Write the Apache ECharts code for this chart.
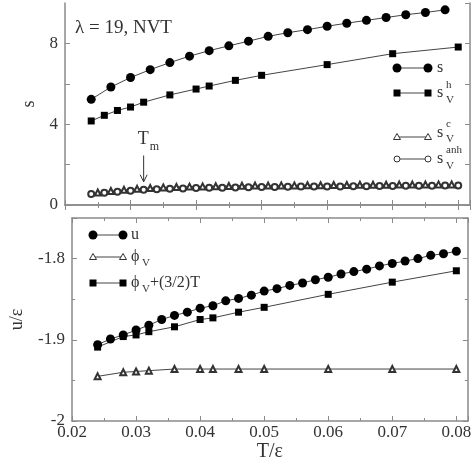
<!DOCTYPE html>
<html><head><meta charset="utf-8">
<script src="https://cdn.jsdelivr.net/npm/echarts@6/dist/echarts.min.js"></script>
<style>html,body{margin:0;padding:0;background:#fff}#c{width:474px;height:465px}</style>
</head><body><div id="c"></div>
<script>
// ---- data ----
const xTicks = [0.02, 0.03, 0.04, 0.05, 0.06, 0.07, 0.08];
const sX = [0.024,0.027,0.030,0.033,0.036,0.039,0.042,0.045,0.048,0.051,0.054,0.057,0.060,0.063,0.066,0.069,0.072,0.075,0.078];
const sVals = [5.23,5.84,6.31,6.70,7.05,7.37,7.64,7.88,8.11,8.35,8.53,8.68,8.85,9.00,9.14,9.28,9.42,9.53,9.66];
const shX = [0.024,0.026,0.028,0.030,0.032,0.036,0.040,0.042,0.046,0.050,0.060,0.070,0.080];
const shVals = [4.16,4.44,4.68,4.85,5.09,5.45,5.74,5.89,6.17,6.42,6.95,7.49,7.82];
const scX = [0.025,0.027,0.029,0.031,0.033,0.035,0.037,0.039,0.041,0.043,0.045,0.047,0.049,0.051,0.053,0.055,0.057,0.059,0.061,0.063,0.065,0.067,0.069,0.071,0.073,0.075,0.077,0.079];
const scVals = [0.62,0.69,0.75,0.80,0.84,0.87,0.89,0.91,0.92,0.93,0.94,0.95,0.96,0.96,0.97,0.97,0.98,0.98,0.99,0.99,1.00,1.00,1.00,1.01,1.01,1.01,1.02,1.02];
const anhX = [0.024,0.026,0.028,0.030,0.032,0.034,0.036,0.038,0.040,0.042,0.044,0.046,0.048,0.050,0.052,0.054,0.056,0.058,0.060,0.062,0.064,0.066,0.068,0.070,0.072,0.074,0.076,0.078,0.080];
const anhVals = [0.55,0.61,0.66,0.71,0.75,0.78,0.80,0.82,0.84,0.85,0.86,0.87,0.88,0.89,0.89,0.90,0.91,0.91,0.92,0.92,0.93,0.93,0.94,0.94,0.95,0.95,0.95,0.96,0.96];
const uX = [0.024,0.026,0.028,0.030,0.032,0.034,0.036,0.038,0.040,0.042,0.044,0.046,0.048,0.050,0.052,0.054,0.056,0.058,0.060,0.062,0.064,0.066,0.068,0.070,0.072,0.074,0.076,0.078,0.080];
const uVals = [-1.906,-1.899,-1.894,-1.888,-1.882,-1.875,-1.870,-1.866,-1.861,-1.858,-1.852,-1.849,-1.845,-1.840,-1.837,-1.833,-1.830,-1.826,-1.823,-1.819,-1.816,-1.813,-1.809,-1.806,-1.803,-1.800,-1.796,-1.794,-1.791];
const phiX = [0.024,0.028,0.030,0.032,0.036,0.040,0.042,0.046,0.050,0.060,0.070,0.080];
const phiVals = [-1.945,-1.940,-1.939,-1.938,-1.936,-1.936,-1.936,-1.936,-1.936,-1.936,-1.936,-1.936];
const phiTVals = [-1.909,-1.896,-1.894,-1.890,-1.884,-1.875,-1.873,-1.866,-1.860,-1.844,-1.829,-1.815];
const topYLabels = [0, 4, 8];
const botYLabels = [-2, -1.9, -1.8];
const tmX = 0.032;

const zip = (xs, ys) => xs.map((x, i) => [x, ys[i]]);
const FONT = '"Liberation Serif", "DejaVu Serif", serif';
const AX = '#8a8a8a';
const TXT = '#333';
const near = (v, arr) => arr.some(a => Math.abs(a - v) < 1e-9);

function xAxis(grid, pos, labels, name) {
  return {
    type: 'value', gridIndex: grid, position: pos, min: 0.02, max: 0.0818, interval: 0.01,
    axisLine: { show: true, lineStyle: { color: AX, width: 1.5 } },
    axisTick: { show: true, inside: true, length: 5, lineStyle: { color: AX } },
    minorTick: { show: true, splitNumber: 2, length: 3, lineStyle: { color: AX } },
    splitLine: { show: false },
    axisLabel: { show: labels, showMaxLabel: false, margin: 3, color: TXT, fontFamily: FONT, fontSize: 17,
      formatter: v => near(v, xTicks) ? v.toFixed(2) : '' },
    name: name || '', nameLocation: 'middle', nameGap: 17,
    nameTextStyle: { color: TXT, fontFamily: FONT, fontSize: 20 }
  };
}
function yAxis(grid, pos, labels, min, max, interval, fmt, name, gap) {
  return {
    type: 'value', gridIndex: grid, position: pos, min: min, max: max, interval: interval,
    axisLine: { show: true, lineStyle: { color: AX, width: 1.5 } },
    axisTick: { show: true, inside: true, length: 5, lineStyle: { color: AX } },
    minorTick: { show: grid === 1, splitNumber: 2, length: 3, lineStyle: { color: AX } },
    splitLine: { show: false },
    axisLabel: { show: labels, showMaxLabel: false, margin: 7, color: TXT, fontFamily: FONT, fontSize: 17, formatter: fmt },
    name: name || '', nameLocation: 'middle', nameGap: gap || 25, nameRotate: 90,
    nameTextStyle: { color: TXT, fontFamily: FONT, fontSize: 18 }
  };
}
const lineS = { color: '#444', width: 1 };
function ser(name, xi, yi, data, symbol, size, fill) {
  return {
    name, type: 'line', xAxisIndex: xi, yAxisIndex: yi, data, symbol, symbolSize: size,
    lineStyle: lineS, itemStyle: { color: fill, borderColor: '#222', borderWidth: symbol.startsWith('empty') ? 1 : 0 },
    showSymbol: true, animation: false, z: 3
  };
}

const chart = echarts.init(document.getElementById('c'), null, { renderer: 'canvas' });
chart.setOption({
  animation: false,
  backgroundColor: '#fff',
  grid: [
    { left: 65, top: 3, width: 405, height: 202 },
    { left: 65, top: 218, width: 405, height: 203 }
  ],
  xAxis: [
    xAxis(0, 'bottom', false), xAxis(0, 'top', false),
    xAxis(1, 'bottom', true, 'T/ε'), xAxis(1, 'top', false)
  ],
  yAxis: [
    yAxis(0, 'left', true, 0, 10, 2, v => near(v, topYLabels) ? String(v) : '', 's', 20),
    yAxis(0, 'right', false, 0, 10, 2),
    yAxis(1, 'left', true, -2, -1.75, 0.1, v => near(v, botYLabels) ? (Math.abs(v + 2) < 1e-9 ? '-2' : v.toFixed(1)) : '', 'u/ε', 46),
    yAxis(1, 'right', false, -2, -1.75, 0.1)
  ],
  series: [
    ser('s', 0, 0, zip(sX, sVals), 'circle', 9, '#000'),
    ser('svh', 0, 0, zip(shX, shVals), 'rect', 7, '#000'),
    ser('svc', 0, 0, zip(scX, scVals), 'emptyTriangle', 6, '#333'),
    ser('svanh', 0, 0, zip(anhX, anhVals), 'emptyCircle', 6, '#333'),
    ser('u', 2, 2, zip(uX, uVals), 'circle', 9, '#000'),
    ser('phiV', 2, 2, zip(phiX, phiVals), 'emptyTriangle', 6, '#333'),
    ser('phiT', 2, 2, zip(phiX, phiTVals), 'rect', 7, '#000')
  ]
});

// ---- annotations & legends (graphic) ----
const g = [];
function txt(x, y, text, size, extra) {
  g.push(Object.assign({ type: 'text', x, y, style: { text, font: size + 'px ' + FONT, fill: TXT, textVerticalAlign: 'middle' }, z: 10 }, extra || {}));
}
function legRow(x1, x2, y, kind) {
  g.push({ type: 'line', shape: { x1, y1: y, x2, y2: y }, style: { stroke: '#444', lineWidth: 1 }, z: 10 });
  [x1, x2].forEach(cx => {
    if (kind === 'circle') g.push({ type: 'circle', shape: { cx, cy: y, r: 4.5 }, style: { fill: '#000' }, z: 11 });
    else if (kind === 'rect') g.push({ type: 'rect', shape: { x: cx - 3.5, y: y - 3.5, width: 7, height: 7 }, style: { fill: '#000' }, z: 11 });
    else if (kind === 'tri') g.push({ type: 'polygon', shape: { points: [[cx, y - 3.5], [cx + 3.5, y + 2.5], [cx - 3.5, y + 2.5]] }, style: { fill: '#fff', stroke: '#333', lineWidth: 1 }, z: 11 });
    else g.push({ type: 'circle', shape: { cx, cy: y, r: 3 }, style: { fill: '#fff', stroke: '#333', lineWidth: 1 }, z: 11 });
  });
}
// title
txt(75, 28, 'λ = 19, NVT', 19);
// top legend
legRow(397, 428, 68, 'circle'); txt(437, 68, 's', 16);
legRow(397, 428, 93, 'rect'); txt(437, 93, 's', 16); txt(446, 85, 'h', 11); txt(446, 100, 'V', 11);
legRow(397, 428, 137, 'tri'); txt(437, 133, 's', 16); txt(446, 124, 'c', 11); txt(446, 139, 'V', 11);
legRow(397, 428, 159, 'ocircle'); txt(437, 159, 's', 16); txt(446, 150, 'anh', 11); txt(446, 166, 'V', 11);
// bottom legend
legRow(93, 123, 235, 'circle'); txt(131, 235, 'u', 16);
legRow(93, 123, 257, 'tri'); txt(131, 257, 'ϕ', 16); txt(142, 263, 'V', 11);
legRow(93, 123, 283, 'rect'); txt(131, 283, 'ϕ', 16); txt(142, 289, 'V', 11); txt(150, 283, '+(3/2)T', 16);
// Tm arrow
const pTop = chart.convertToPixel({ xAxisIndex: 0, yAxisIndex: 0 }, [tmX, 2.45]);
const pTip = chart.convertToPixel({ xAxisIndex: 0, yAxisIndex: 0 }, [tmX, 1.15]);
g.push({ type: 'line', shape: { x1: pTop[0], y1: pTop[1], x2: pTip[0], y2: pTip[1] }, style: { stroke: '#333', lineWidth: 1 }, z: 10 });
g.push({ type: 'polyline', shape: { points: [[pTip[0] - 3.5, pTip[1] - 7], [pTip[0], pTip[1]], [pTip[0] + 3.5, pTip[1] - 7]] }, style: { stroke: '#333', lineWidth: 1, fill: null }, z: 10 });
txt(pTop[0] - 6, pTop[1] - 16, 'T', 18);
txt(pTop[0] + 6, pTop[1] - 9, 'm', 12);
chart.setOption({ graphic: g });
</script></body></html>
